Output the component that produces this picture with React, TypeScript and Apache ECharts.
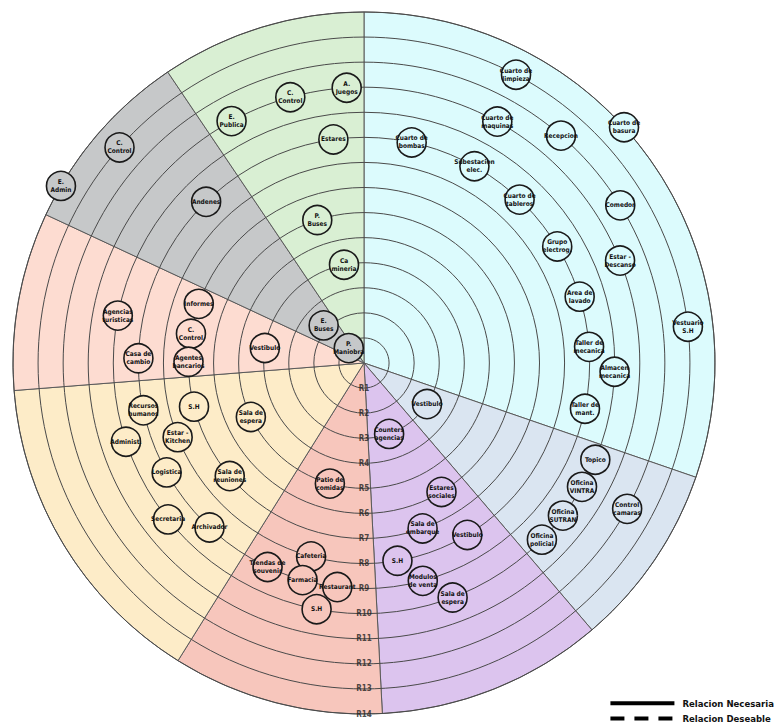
import React, { useEffect, useRef } from "react";
import * as echarts from "echarts";

// Sector bearings (degrees clockwise from north)
const SECTOR_START = [0, 109, 139.5, 177, 212, 265.5, 295, 326];
const SECTOR_END = [109, 139.5, 177, 212, 265.5, 295, 326, 360];
const SECTOR_COLORS = ["#dcfbfd", "#dae5f1", "#dcc4ee", "#f7c6bc", "#fdecc8", "#fddcd1", "#c6c8c9", "#d9efd3"];

const RING_LABELS = ["R1", "R2", "R3", "R4", "R5", "R6", "R7", "R8", "R9", "R10", "R11", "R12", "R13", "R14"];

const NODE_NAMES = [
  "Cuarto de\nlimpieza", "Cuarto de\nmaquinas", "Recepcion", "Cuarto de\nbasura", "Cuarto de\nbombas",
  "Subestacion\nelec.", "Cuarto de\ntableros", "Comedor", "Grupo\nelectrog.", "Estar -\nDescanso",
  "Area de\nlavado", "Vestuario\nS.H", "Taller de\nmecanica", "Almacen\nmecanica", "Taller de\nmant.",
  "Vestibulo", "Topico", "Oficina\nVINTRA", "Oficina\nSUTRAN", "Control\ncamaras", "Oficina\npolicial",
  "Counters\nagencias", "Estares\nsociales", "Sala de\nembarque", "Vestibulo", "S.H", "Modulos\nde venta", "Sala de\nespera",
  "Patio de\ncomidas", "Cafeteria", "Tiendas de\nsouvenir", "Farmacia", "Restaurant", "S.H",
  "Recursos\nhumanos", "S.H", "Sala de\nespera", "Administ.", "Estar -\nKitchen", "Logistica", "Sala de\nreuniones", "Secretaria", "Archivador",
  "Agencias\nturisticas", "Informes", "C.\nControl", "Casa de\ncambio", "Agentes\nbancarios", "Vestibulo",
  "E.\nBuses", "P.\nManiobra", "Andenes", "C.\nControl", "E.\nAdmin",
  "A.\nJuegos", "C.\nControl", "E.\nPublica", "Estares", "P.\nBuses", "Ca\nmineria",
];
const NODE_RING = [
  13, 11, 12, 14, 9,
  9, 9, 12, 9, 11,
  9, 13, 9, 10, 9,
  3, 10, 10, 10, 12, 10,
  3, 6, 7, 8, 8, 9, 10,
  5, 8, 9, 9, 9, 10,
  9, 7, 5, 10, 8, 9, 7, 10, 9,
  10, 7, 7, 9, 7, 4,
  2.2, 0.85, 9, 13, 14,
  11, 11, 11, 9, 6, 4,
];
const NODE_ANGLE = [
  27.8, 28.9, 40.9, 47.8, 12.2,
  29.3, 43.6, 58.4, 58.9, 68.2,
  72.9, 83.6, 85.9, 92, 101.7,
  123.1, 112.7, 119.6, 127.5, 119, 134.8,
  160.5, 149, 160.5, 149, 170.4, 164.9, 159.3,
  195.8, 195.3, 205.3, 195.8, 186.8, 190.9,
  257.9, 255.6, 244.5, 251.7, 248.3, 241, 229.9, 231.4, 223.2,
  280.9, 289.7, 279.6, 271.2, 270.4, 278.6,
  313, 314.4, 315.6, 311.4, 300.3,
  356.4, 344.5, 331.3, 352.2, 341.9, 348.5,
];

const LEGEND_NAMES = ["Relacion Necesaria", "Relacion Deseable"];

const FONT = "'Liberation Sans Narrow', 'DejaVu Sans Condensed', Roboto, sans-serif";

function colorFor(angle: number): string {
  for (let i = 0; i < SECTOR_START.length; i++) {
    if (angle >= SECTOR_START[i] && angle < SECTOR_END[i]) return SECTOR_COLORS[i];
  }
  return SECTOR_COLORS[0];
}

export default function App() {
  const ref = useRef<HTMLDivElement>(null);
  useEffect(() => {
    document.body.style.margin = "0";
    const chart = echarts.init(ref.current!, null, { renderer: "svg" });
    const rad = (b: number) => ((b - 90) * Math.PI) / 180;
    chart.setOption({
      animation: false,
      backgroundColor: "#ffffff",
      polar: { center: [364, 363], radius: 351 },
      angleAxis: {
        type: "value", min: 0, max: 360, startAngle: 90, clockwise: true,
        axisLine: { show: false }, axisTick: { show: false }, axisLabel: { show: false }, splitLine: { show: false },
      },
      radiusAxis: {
        type: "value", min: 0, max: 14, interval: 1, z: 3,
        axisLine: { show: false }, axisTick: { show: false }, axisLabel: { show: false },
        splitLine: { show: true, lineStyle: { color: "#4a4a4a", width: 1 } },
      },
      legend: {
        data: LEGEND_NAMES, orient: "vertical", right: 2, bottom: 0, padding: 0,
        itemWidth: 64, itemHeight: 14, itemGap: 4,
        itemStyle: { opacity: 0 },
        lineStyle: { width: 4 },
        textStyle: { fontSize: 9.5, fontWeight: "bold", fontFamily: FONT, color: "#111", padding: [0, 0, 0, 3] },
      },
      series: [
        {
          type: "custom", coordinateSystem: "polar", z: 1, silent: true,
          data: SECTOR_START.map((s, i) => [14, s, SECTOR_END[i], i]),
          renderItem: (params: any, api: any) => {
            const cs = params.coordSys;
            const i = api.value(3);
            return {
              type: "sector",
              shape: { cx: cs.cx, cy: cs.cy, r0: 0, r: cs.r, startAngle: rad(api.value(1)), endAngle: rad(api.value(2)), clockwise: true },
              style: { fill: SECTOR_COLORS[i], stroke: "#5a5a5a", lineWidth: 1 },
            };
          },
        },
        {
          type: "scatter", coordinateSystem: "polar", z: 10, symbol: "circle", symbolSize: 29,
          data: NODE_NAMES.map((n, i) => ({
            name: n, value: [NODE_RING[i], NODE_ANGLE[i]],
            itemStyle: { color: colorFor(NODE_ANGLE[i]), borderColor: "#1a1a1a", borderWidth: 1.6, opacity: 1 },
          })),
          label: {
            show: true, position: "inside", formatter: (p: any) => p.name,
            fontSize: 6.5, lineHeight: 8, fontWeight: "bold", fontFamily: FONT, color: "#111",
          },
        },
        {
          type: "scatter", coordinateSystem: "polar", z: 11, symbolSize: 12,
          itemStyle: { color: "rgba(0,0,0,0)" },
          data: RING_LABELS.map((t, i) => ({ name: t, value: [i + 1, 180] })),
          label: { show: true, position: "inside", formatter: (p: any) => p.name, fontSize: 8, fontWeight: "bold", fontFamily: FONT, color: "#222" },
        },
        { name: LEGEND_NAMES[0], type: "line", coordinateSystem: "polar", data: [], symbol: "none", lineStyle: { color: "#000", width: 4, type: "solid" }, itemStyle: { color: "#000" } },
        { name: LEGEND_NAMES[1], type: "line", coordinateSystem: "polar", data: [], symbol: "none", lineStyle: { color: "#000", width: 4, type: [14, 10] }, itemStyle: { color: "#000" } },
      ],
    });
    return () => chart.dispose();
  }, []);
  return <div ref={ref} style={{ width: 776, height: 724 }} />;
}
